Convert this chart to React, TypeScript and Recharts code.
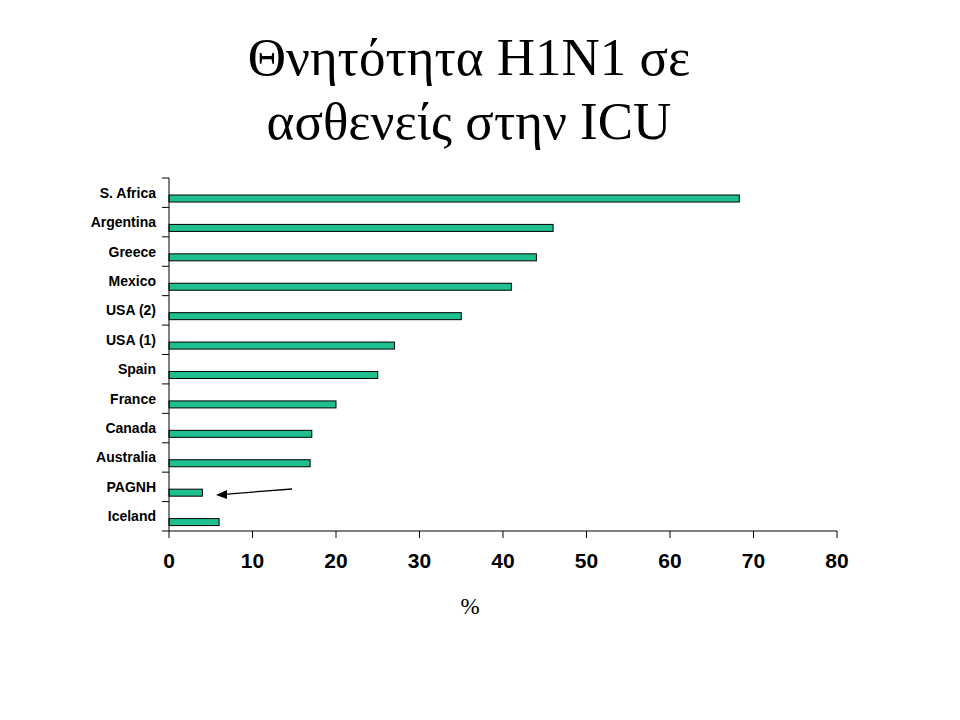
import React from 'react';
import { BarChart, Bar, XAxis, YAxis } from 'recharts';

const countries = [
  'S. Africa', 'Argentina', 'Greece', 'Mexico', 'USA (2)', 'USA (1)',
  'Spain', 'France', 'Canada', 'Australia', 'PAGNH', 'Iceland',
];
const mortality = [68.3, 46, 44, 41, 35, 27, 25, 20, 17.1, 16.9, 4, 6];
const xTicks = [0, 10, 20, 30, 40, 50, 60, 70, 80];

const data = countries.map((country, i) => ({ country, value: mortality[i] }));

const W = 960;
const H = 720;
const M = { top: 178, right: 123, bottom: 129, left: 89 };
const Y_AXIS_W = 80;
const X_AXIS_H = 60;
const PLOT_H = H - M.top - M.bottom - X_AXIS_H;
const BAND = PLOT_H / countries.length;
const TICK = 7;
const TICK_GAP = 6;

const CountryTick = (props: any) => {
  const { x, y, payload, index } = props;
  const axisX = x + TICK + TICK_GAP;
  return (
    <g>
      <text
        x={x}
        y={y}
        textAnchor="end"
        dominantBaseline="central"
        fontFamily="'Liberation Sans', Arial, sans-serif"
        fontWeight="bold"
        fontSize={14}
        fill="#000"
      >
        {payload.value}
      </text>
      {index === 0 && (
        <line x1={axisX - TICK} x2={axisX} y1={y - BAND / 2} y2={y - BAND / 2} stroke="#000" />
      )}
      <line x1={axisX - TICK} x2={axisX} y1={y + BAND / 2} y2={y + BAND / 2} stroke="#000" />
    </g>
  );
};

const PercentTick = (props: any) => {
  const { x, y, payload } = props;
  return (
    <text
      x={x}
      y={y + 20}
      textAnchor="middle"
      dominantBaseline="central"
      fontFamily="'Liberation Sans', Arial, sans-serif"
      fontWeight="bold"
      fontSize={21}
      fill="#000"
    >
      {payload.value}
    </text>
  );
};

// Excel-style bar sits in the lower half of the category band
const OffsetBar = (props: any) => {
  const { x, y, width, height } = props;
  if (!width) return null;
  return <rect x={x} y={y + 6} width={width} height={height} fill="#1fbf8f" stroke="#000" strokeWidth={1} />;
};

export default function App() {
  return (
    <div style={{ position: 'absolute', left: 0, top: 0, width: W, height: H, background: '#fff' }}>
      <div
        style={{
          position: 'absolute',
          left: 0,
          top: 25,
          width: 938,
          textAlign: 'center',
          fontFamily: "'Liberation Serif', 'Times New Roman', serif",
          fontSize: 53,
          lineHeight: '64px',
          color: '#000',
        }}
      >
        Θνητότητα H1N1 σε
        <br />
        ασθενείς στην ICU
      </div>
      <BarChart width={W} height={H} data={data} layout="vertical" margin={M} barSize={7}>
        <XAxis
          type="number"
          domain={[0, 80]}
          ticks={xTicks}
          interval={0}
          height={X_AXIS_H}
          tickSize={TICK}
          stroke="#000"
          tick={<PercentTick />}
        />
        <YAxis
          type="category"
          dataKey="country"
          width={Y_AXIS_W}
          interval={0}
          tickSize={TICK}
          tickMargin={TICK_GAP}
          tickLine={false}
          stroke="#000"
          tick={<CountryTick />}
        />
        <Bar dataKey="value" isAnimationActive={false} shape={<OffsetBar />} />
      </BarChart>
      <div
        style={{
          position: 'absolute',
          left: 450,
          top: 594,
          width: 40,
          textAlign: 'center',
          fontFamily: "'Liberation Serif', 'Times New Roman', serif",
          fontSize: 23,
        }}
      >
        %
      </div>
      <svg style={{ position: 'absolute', left: 0, top: 0 }} width={W} height={H} pointerEvents="none">
        <line x1={292} y1={489} x2={224} y2={494.3} stroke="#000" strokeWidth={1.3} />
        <polygon points="216,495 227,490 227,499" fill="#000" />
      </svg>
    </div>
  );
}
